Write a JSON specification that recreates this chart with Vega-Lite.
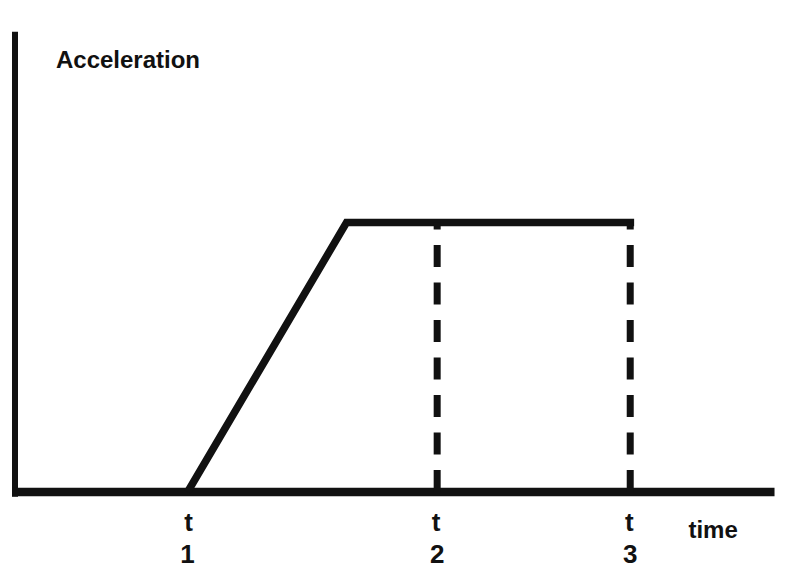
{
  "$schema": "https://vega.github.io/schema/vega-lite/v6.json",
  "width": 794,
  "height": 569,
  "padding": 0,
  "autosize": {"type": "none"},
  "background": "white",
  "config": {"view": {"stroke": null}},
  "datasets": {
    "axes": [
      {"name": "yaxis", "x": 0, "x2": 0, "y": -0.0176, "y2": 1.708, "w": 6},
      {"name": "xaxis", "x": -0.3, "x2": 77.9, "y": 0, "y2": 0, "w": 8.5}
    ],
    "curve": [
      {"time": 17.7, "acc": 0, "o": 1},
      {"time": 34.0, "acc": 1, "o": 2},
      {"time": 63.5, "acc": 1, "o": 3}
    ],
    "dashes": [
      {"time": 43.3, "acc0": 0, "acc1": 1},
      {"time": 63.1, "acc0": 0, "acc1": 1}
    ],
    "labels": [
      {"time": 17.8, "acc": -0.144, "text": "t", "size": 26},
      {"time": 17.7, "acc": -0.264, "text": "1", "size": 26},
      {"time": 43.2, "acc": -0.144, "text": "t", "size": 26},
      {"time": 43.3, "acc": -0.264, "text": "2", "size": 26},
      {"time": 63.0, "acc": -0.144, "text": "t", "size": 26},
      {"time": 63.1, "acc": -0.264, "text": "3", "size": 26},
      {"time": 71.6, "acc": -0.169, "text": "time", "size": 24}
    ]
  },
  "layer": [
    {
      "data": {"name": "axes"},
      "mark": {"type": "rule", "color": "#111", "strokeCap": "butt"},
      "encoding": {
        "x": {"field": "x", "type": "quantitative", "scale": {"domain": [0, 78], "range": [15, 795]}, "axis": null},
        "x2": {"field": "x2"},
        "y": {"field": "y", "type": "quantitative", "scale": {"domain": [0, 1.708], "range": [492, 7]}, "axis": null},
        "y2": {"field": "y2"},
        "strokeWidth": {"field": "w", "type": "quantitative", "scale": null}
      }
    },
    {
      "data": {"name": "curve"},
      "mark": {"type": "line", "color": "#111", "strokeWidth": 7.5, "strokeJoin": "miter", "strokeCap": "butt"},
      "encoding": {
        "x": {"field": "time", "type": "quantitative"},
        "y": {"field": "acc", "type": "quantitative"},
        "order": {"field": "o"}
      }
    },
    {
      "data": {"name": "dashes"},
      "mark": {"type": "rule", "color": "#111", "strokeWidth": 7, "strokeDash": [22, 15.5], "strokeCap": "butt"},
      "encoding": {
        "x": {"field": "time", "type": "quantitative"},
        "y": {"field": "acc0", "type": "quantitative"},
        "y2": {"field": "acc1"}
      }
    },
    {
      "data": {"name": "labels"},
      "mark": {"type": "text", "font": "Liberation Sans", "fontWeight": "bold", "baseline": "alphabetic", "align": "center", "color": "#111"},
      "encoding": {
        "x": {"field": "time", "type": "quantitative"},
        "y": {"field": "acc", "type": "quantitative"},
        "text": {"field": "text"},
        "size": {"field": "size", "type": "quantitative", "scale": null}
      }
    },
    {
      "data": {"values": [{"time": 4.2, "acc": 1.574, "text": "Acceleration"}]},
      "mark": {"type": "text", "font": "Liberation Sans", "fontWeight": "bold", "fontSize": 24, "align": "left", "baseline": "alphabetic", "color": "#111"},
      "encoding": {
        "x": {"field": "time", "type": "quantitative"},
        "y": {"field": "acc", "type": "quantitative"},
        "text": {"field": "text"}
      }
    }
  ]
}
